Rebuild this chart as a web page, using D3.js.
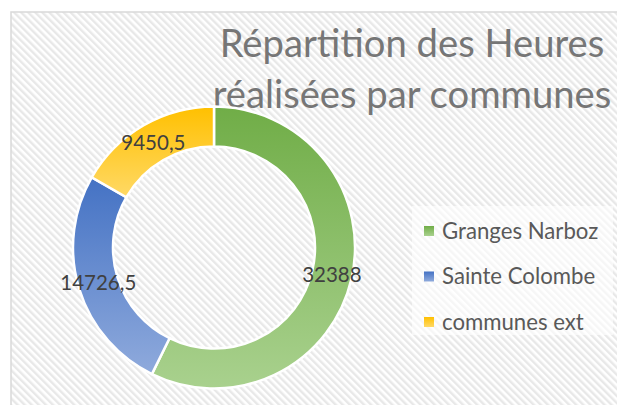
<!DOCTYPE html>
<html>
    <head>
        <meta charset="utf-8">
        <title>Répartition des Heures</title>
        <script src="https://d3js.org/d3.v7.min.js"></script>
        <style>
            body { margin: 0; background: #fff; }
        </style>
    </head>
    <body>
        <div id="chart"></div>
        <script>
            //  data
            const categories = ["Granges Narboz", "Sainte Colombe", "communes ext"];
            const values = [32388, 14726.5, 9450.5];
            const titleLines = ["Répartition des Heures", "réalisées par communes"];

            //  chart dimensions
            const width = 617;
            const height = 405;
            const cx = 214, cy = 247.5;
            const outerR = 141, innerR = 101;

            //  top / bottom of each gradient
            const palette = [
                ["#70ad47", "#a9d18e"],
                ["#4472c4", "#8faadc"],
                ["#ffc000", "#ffd966"]
            ];

            const fmt = v => String(v).replace(".", ",");

            const svg = d3.select("#chart").append("svg")
                .attr("width", width)
                .attr("height", height);

            const defs = svg.append("defs");

            //  diagonal hatch for the chart area
            const pat = defs.append("pattern")
                .attr("id", "hatch")
                .attr("patternUnits", "userSpaceOnUse")
                .attr("width", 5)
                .attr("height", 5)
                .attr("patternTransform", "rotate(-45)");
            pat.append("rect").attr("width", 5).attr("height", 5).attr("fill", "#fff");
            pat.append("rect").attr("width", 2.4).attr("height", 5).attr("fill", "#e8e8e8");

            palette.forEach((c, i) => {
                const g = defs.append("linearGradient")
                    .attr("id", `grad${i}`)
                    .attr("x1", 0).attr("y1", 0)
                    .attr("x2", 0).attr("y2", 1);
                g.append("stop").attr("offset", "0%").attr("stop-color", c[0]);
                g.append("stop").attr("offset", "100%").attr("stop-color", c[1]);
            });

            //  chart area
            svg.append("rect")
                .attr("x", 11)
                .attr("y", 12)
                .attr("width", width)
                .attr("height", height)
                .attr("fill", "url(#hatch)")
                .attr("stroke", "#d9d9d9")
                .attr("stroke-width", 1.5);

            //  title
            const title = svg.append("text")
                .attr("text-anchor", "middle")
                .attr("font-family", "Lato, sans-serif")
                .attr("font-size", 38.2)
                .attr("fill", "#767676");
            title.selectAll("tspan")
                .data(titleLines)
                .join("tspan")
                .attr("x", 412)
                .attr("y", (d, i) => 57 + i * 51)
                .text(d => d);

            //  donut
            const pie = d3.pie().sort(null).value(d => d.value);
            const arc = d3.arc().innerRadius(innerR).outerRadius(outerR);
            const slices = pie(categories.map((c, i) => ({ name: c, value: values[i], i: i })));

            const g = svg.append("g")
                .attr("transform", `translate(${cx},${cy})`);

            g.selectAll("path")
                .data(slices)
                .join("path")
                .attr("d", arc)
                .attr("fill", d => `url(#grad${d.data.i})`)
                .attr("stroke", "#fff")
                .attr("stroke-width", 2.5);

            g.selectAll("text")
                .data(slices)
                .join("text")
                .attr("transform", d => `translate(${arc.centroid(d)})`)
                .attr("text-anchor", "middle")
                .attr("dy", "0.36em")
                .attr("font-family", "Lato, sans-serif")
                .attr("font-size", 20.5)
                .attr("fill", "#404040")
                .text(d => fmt(d.data.value));

            //  legend
            const legend = svg.append("g");

            legend.append("rect")
                .attr("x", 412)
                .attr("y", 206)
                .attr("width", 201)
                .attr("height", 129)
                .attr("fill", "#fff")
                .attr("opacity", 0.6);

            const item = legend.selectAll("g.item")
                .data(categories)
                .join("g")
                .attr("class", "item")
                .attr("transform", (d, i) => `translate(424,${231 + i * 45.5})`);

            item.append("rect")
                .attr("y", -5)
                .attr("width", 10)
                .attr("height", 10)
                .attr("fill", (d, i) => `url(#grad${i})`);

            item.append("text")
                .attr("x", 18)
                .attr("y", 7.5)
                .attr("font-family", "Lato, sans-serif")
                .attr("font-size", 22.2)
                .attr("fill", "#595959")
                .text(d => d);
        </script>
    </body>
</html>
